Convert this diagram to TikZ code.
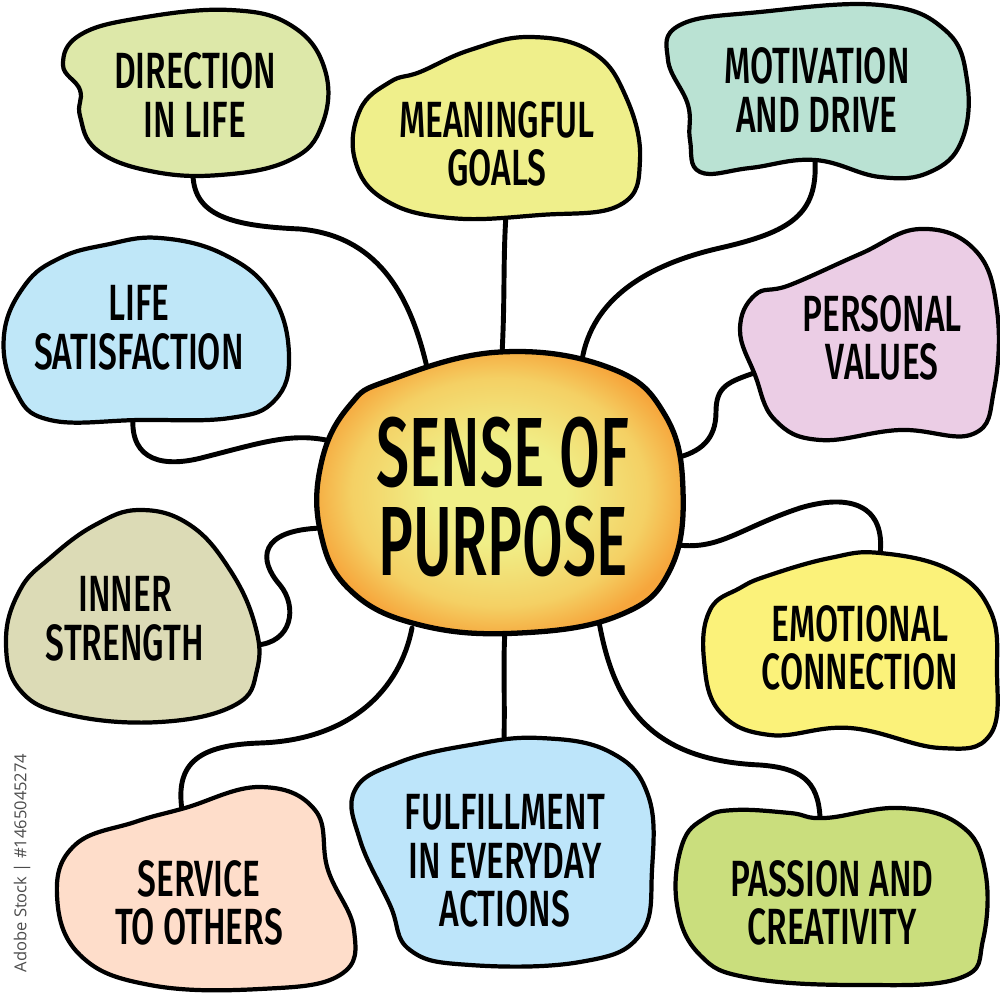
\documentclass[tikz,border=0pt]{standalone}
\usepackage{fontspec}
\usepackage{tikz}

\newfontfamily\handfont[FakeStretch=0.66, UprightFont={* Medium}]{Fira Sans}
\newfontfamily\hubfont[FakeStretch=0.6, UprightFont={* Medium}]{Fira Sans}
\newfontfamily\markfont{Open Sans}

\definecolor{dirfill}{HTML}{DDE8A9}
\definecolor{goalfill}{HTML}{EFEF8B}
\definecolor{motfill}{HTML}{BAE2D3}
\definecolor{valfill}{HTML}{EBCDE5}
\definecolor{satfill}{HTML}{BFE7F8}
\definecolor{innfill}{HTML}{DCDBB6}
\definecolor{emofill}{HTML}{FBF27A}
\definecolor{serfill}{HTML}{FEDDCA}
\definecolor{fulfill}{HTML}{BDE5FA}
\definecolor{pasfill}{HTML}{CADE7D}
\definecolor{hubin}{HTML}{F0EF88}
\definecolor{hubmid}{HTML}{F4D064}
\definecolor{hubout}{HTML}{F6A63C}

\pgfdeclareradialshading{hubshade}{\pgfpoint{0bp}{0bp}}{color(0bp)=(hubin); color(9bp)=(hubin); color(20bp)=(hubmid); color(26bp)=(hubout); color(50bp)=(hubout)}

\begin{document}
\begin{tikzpicture}[x=0.1mm,y=-0.1mm,
  blob/.style={draw=black, line width=1.2pt, line join=round},
  link/.style={draw=black, line width=1.4pt, line cap=round},
  blobtext/.style={font=\handfont\fontsize{14.5}{13.8}\selectfont, align=center, inner sep=0pt},
  hubtext/.style={font=\hubfont\fontsize{28}{25.6}\selectfont, align=center, inner sep=0pt}]

\useasboundingbox (0,0) rectangle (1000,995);

%%%%% connector ends
\coordinate (dir-end) at (193,176); \coordinate (hub-dir) at (428,372);
\coordinate (goal-end) at (506,215); \coordinate (hub-goal) at (502,354);
\coordinate (mot-end) at (815,160); \coordinate (hub-mot) at (582,360);
\coordinate (val-end) at (757,372); \coordinate (hub-val) at (676,458);
\coordinate (sat-end) at (133,417); \coordinate (hub-sat) at (326,440);
\coordinate (inn-end) at (256,645); \coordinate (hub-inn) at (322,528);
\coordinate (ser-end) at (182,810); \coordinate (hub-ser) at (412,628);
\coordinate (ful-end) at (504,740); \coordinate (hub-ful) at (505,631);
\coordinate (pas-end) at (820,817); \coordinate (hub-pas) at (598,616);
\coordinate (emo-end) at (880,555); \coordinate (hub-emo) at (678,545);

%%%%% connectors
\draw[link] (dir-end) .. controls (195,215) and (230,226) .. (300,229) .. controls (375,236) and (410,290) .. (hub-dir);
\draw[link] (goal-end) .. controls (503,260) and (505,300) .. (hub-goal);
\draw[link] (mot-end) .. controls (818,215) and (790,232) .. (720,248) .. controls (645,265) and (592,300) .. (hub-mot);
\draw[link] (val-end) .. controls (728,382) and (716,386) .. (716,412) .. controls (716,440) and (700,452) .. (hub-val);
\draw[link] (sat-end) .. controls (130,462) and (165,468) .. (205,457) .. controls (260,443) and (290,433) .. (hub-sat);
\draw[link] (inn-end) .. controls (292,643) and (298,607) .. (280,585) .. controls (258,560) and (258,530) .. (hub-inn);
\draw[link] (ser-end) .. controls (175,762) and (200,745) .. (260,743) .. controls (350,740) and (400,690) .. (hub-ser);
\draw[link] (ful-end) .. controls (505,700) and (503,660) .. (hub-ful);
\draw[link] (pas-end) .. controls (818,780) and (800,768) .. (760,765) .. controls (645,760) and (612,700) .. (hub-pas);
\draw[link] (emo-end) .. controls (886,505) and (850,493) .. (800,508) .. controls (740,528) and (720,550) .. (hub-emo);

%%%%% Direction in life
\path[blob, fill=dirfill] plot[smooth cycle, tension=0.7] coordinates {(140,18) (230,10) (292,26) (325,70) (322,125) (290,160) (220,175) (150,171) (97,150) (80,116) (80,90) (63,65) (80,35)};
\node[blobtext] (dir) at (195,95) {DIRECTION\\IN LIFE};

%%%%% Meaningful goals
\path[blob, fill=goalfill] plot[smooth cycle, tension=0.7] coordinates {(420,72) (470,50) (530,37) (592,52) (626,97) (640,160) (620,205) (540,215) (450,218) (385,200) (355,160) (360,110) (390,82)};
\node[blobtext] (goal) at (497,144) {MEANINGFUL\\GOALS};

%%%%% Motivation and drive
\path[blob, fill=motfill] plot[smooth cycle, tension=0.7] coordinates {(680,25) (760,12) (880,5) (945,30) (967,80) (962,140) (930,172) (880,177) (815,160) (750,168) (700,172) (690,140) (688,105) (668,60)};
\node[blobtext] (mot) at (817,90) {MOTIVATION\\AND DRIVE};

%%%%% Personal values
\path[blob, fill=valfill] plot[smooth cycle, tension=0.7] coordinates {(790,285) (860,254) (920,229) (975,250) (997,310) (994,390) (973,434) (900,430) (820,440) (775,420) (755,375) (740,330) (755,295)};
\node[blobtext] (val) at (882,338) {PERSONAL\\VALUES};

%%%%% Life satisfaction
\path[blob, fill=satfill] plot[smooth cycle, tension=0.7] coordinates {(105,245) (160,238) (225,255) (272,295) (289,355) (275,400) (230,418) (140,420) (50,420) (15,390) (4,335) (25,285) (60,258)};
\node[blobtext] (sat) at (139,328) {LIFE\\SATISFACTION};

%%%%% Inner strength
\path[blob, fill=innfill] plot[smooth cycle, tension=0.7] coordinates {(140,510) (190,525) (230,570) (255,625) (257,670) (235,705) (160,722) (70,715) (20,690) (6,640) (20,590) (50,558) (95,525)};
\node[blobtext] (inn) at (125,619) {INNER\\STRENGTH};

%%%%% Emotional connection
\path[blob, fill=emofill] plot[smooth cycle, tension=0.7] coordinates {(770,575) (830,558) (880,553) (950,570) (990,610) (997,670) (990,735) (940,748) (850,728) (770,735) (720,712) (704,660) (710,610) (740,588)};
\node[blobtext] (emo) at (860,648) {EMOTIONAL\\CONNECTION};

%%%%% Service to others
\path[blob, fill=serfill] plot[smooth cycle, tension=0.7] coordinates {(135,822) (185,808) (260,787) (315,810) (328,870) (354,930) (340,975) (260,989) (150,985) (80,955) (57,895) (75,845)};
\node[blobtext] (ser) at (199,903) {SERVICE\\TO OTHERS};

%%%%% Fulfillment in everyday actions
\path[blob, fill=fulfill] plot[smooth cycle, tension=0.7] coordinates {(400,762) (470,745) (540,738) (610,752) (648,795) (652,870) (640,935) (580,962) (470,965) (410,950) (390,905) (360,840) (355,790)};
\node[blobtext] (ful) at (505,861) {FULFILLMENT\\IN EVERYDAY\\ACTIONS};

%%%%% Passion and creativity
\path[blob, fill=pasfill] plot[smooth cycle, tension=0.7] coordinates {(735,810) (790,813) (825,818) (900,808) (960,825) (985,870) (983,940) (960,978) (860,985) (750,978) (700,955) (677,905) (682,845) (705,818)};
\node[blobtext] (pas) at (832,903) {PASSION AND\\CREATIVITY};

%%%%% Sense of purpose
\path[blob, line width=1.5pt, shading=hubshade] plot[smooth cycle, tension=0.7] coordinates {(390,380) (500,352) (610,368) (665,415) (683,490) (670,570) (620,615) (520,633) (420,625) (350,590) (320,530) (322,460) (350,405)};
\node[hubtext] (hub) at (503,497) {SENSE OF\\PURPOSE};

%%%%% stock mark
\node[font=\markfont\fontsize{4.7}{5}\selectfont, text=black!70, rotate=90, inner sep=0pt] (mark) at (22,863) {Adobe Stock | \#1465045274};

\end{tikzpicture}
\end{document}
